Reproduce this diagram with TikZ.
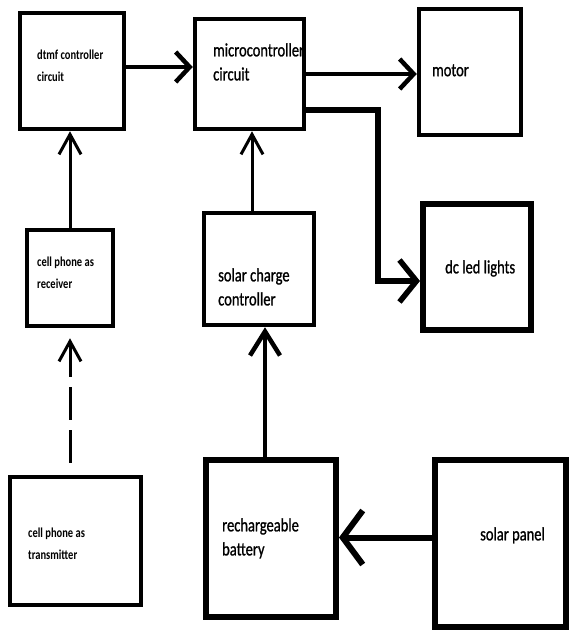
\documentclass[tikz,border=0pt]{standalone}
\usepackage{fontspec}
\setmainfont{Carlito}
\newfontfamily\heavierfont[FakeBold=1.2]{Carlito}
\usetikzlibrary{arrows.meta}

\begin{document}
\begin{tikzpicture}[x=1pt,y=-1pt,
	box/.style={draw,line width=4.5pt,inner sep=0pt},
	heavybox/.style={draw,line width=6pt,inner sep=0pt},
	lbl/.style={anchor=north west,inner sep=0pt,align=left,yscale=1.3,font=\heavierfont\fontsize{14.5}{18.5}\selectfont},
	smalllbl/.style={lbl,font=\bfseries\fontsize{10.5}{16.5}\selectfont},
	linkarr/.style={line width=3pt,-{Straight Barb[length=20pt,width=22pt]}},
	midarr/.style={line width=4.5pt,-{Straight Barb[length=14pt,width=30pt]}},
	heavyarr/.style={line width=5.5pt,-{Straight Barb[length=17pt,width=42pt]}}]
	\useasboundingbox (0,0) rectangle (569,634);

	\node[box,minimum width=104pt,minimum height=116pt] (dtmf) at (72,71) {};
	\node[box,minimum width=109pt,minimum height=110pt] (micro) at (249.5,74) {};
	\node[box,minimum width=102pt,minimum height=126pt] (motor) at (470,72) {};
	\node[box,minimum width=86pt,minimum height=96pt] (receiver) at (70,278) {};
	\node[box,minimum width=110pt,minimum height=112pt] (charge) at (259,269) {};
	\node[heavybox,minimum width=108pt,minimum height=126pt] (ledbox) at (477,267) {};
	\node[box,minimum width=131pt,minimum height=128pt] (sender) at (75.5,541) {};
	\node[heavybox,minimum width=130pt,minimum height=157pt] (battery) at (271,538.5) {};
	\node[heavybox,minimum width=131pt,minimum height=167pt] (panel) at (500.5,543.5) {};

	\node[smalllbl] (dtmftext) at (37,50) {dtmf controller\\circuit};
	\node[lbl] (microtext) at (213,43) {microcontroller\\circuit};
	\node[lbl] (motortext) at (432,64) {motor};
	\node[smalllbl] (receivertext) at (37,257) {cell phone as\\receiver};
	\node[lbl] (chargetext) at (218,268) {solar charge\\controller};
	\node[lbl] (ledtext) at (445,260) {dc led lights};
	\node[smalllbl] (sendertext) at (28,528) {cell phone as\\transmitter};
	\node[lbl] (batterytext) at (222,518) {rechargeable\\battery};
	\node[lbl] (paneltext) at (480,527) {solar panel};

	\coordinate (dtmfout) at ([yshift=4pt]dtmf.east);
	\coordinate (mcuout) at ([yshift=-36pt]micro.east);
	\coordinate (ledin) at ([yshift=-14pt]ledbox.west);
	\coordinate (chargeout) at ([xshift=-7pt]charge.north);
	\coordinate (battout) at ([xshift=-6pt]battery.north);
	\coordinate (panelout) at ([yshift=6pt]panel.west);

	\draw[midarr] (dtmfout) -- (dtmfout -| micro.west);
	\draw[midarr] (micro.east) -- (micro.east -| motor.west);
	\draw[heavyarr] (mcuout) -| ([xshift=-42pt]ledin) -- (ledin);
	\draw[linkarr] (receiver.north) -- (receiver.north |- dtmf.south);
	\draw[linkarr,dash pattern=on 33pt off 10pt,shorten <=12pt,shorten >=10pt] (sender.north -| receiver.south) -- (receiver.south);
	\draw[linkarr] (chargeout) -- (chargeout |- micro.south);
	\draw[line width=4.5pt,-{Straight Barb[length=24pt,width=30pt]}] (battout) -- (battout |- charge.south);
	\draw[line width=6pt,-{Straight Barb[length=20pt,width=54pt]}] (panelout) -- (panelout -| battery.east);
\end{tikzpicture}
\end{document}
